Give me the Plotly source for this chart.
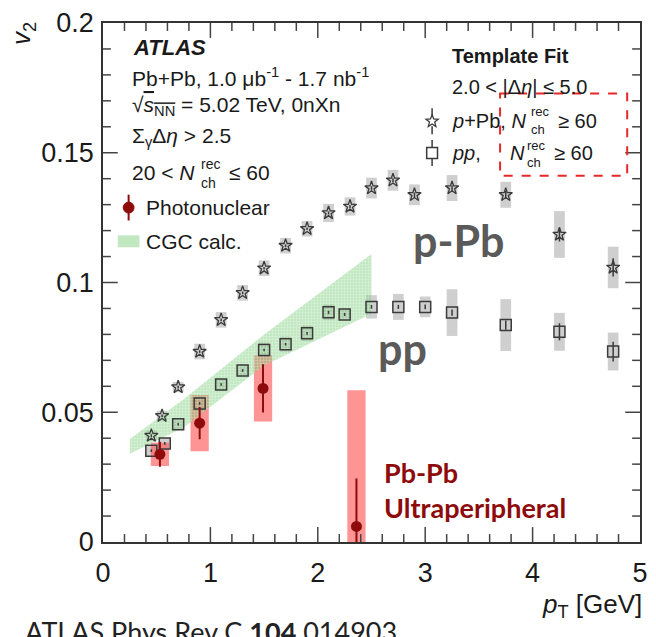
import plotly.graph_objects as go
import numpy as np

# ---------------- data ----------------
ppb_pt   = [0.45, 0.55, 0.7, 0.9, 1.1, 1.3, 1.5, 1.7, 1.9, 2.1, 2.3, 2.5, 2.7, 2.9, 3.25, 3.75, 4.25, 4.75]
ppb_v2   = [0.0410, 0.0486, 0.0597, 0.0734, 0.0856, 0.0960, 0.1055, 0.1142, 0.1207, 0.1268, 0.1293, 0.1364, 0.1394, 0.1338, 0.1364, 0.1338, 0.1185, 0.1058]
ppb_stat = [0.0005, 0.0005, 0.0005, 0.0005, 0.0005, 0.0005, 0.0005, 0.0005, 0.0005, 0.0006, 0.0006, 0.0007, 0.0008, 0.0009, 0.0010, 0.0015, 0.0027, 0.0035]
ppb_sys  = [0.002, 0.002, 0.002, 0.003, 0.003, 0.003, 0.003, 0.003, 0.003, 0.0035, 0.0035, 0.004, 0.004, 0.004, 0.005, 0.005, 0.009, 0.008]

pp_pt   = [0.45, 0.575, 0.7, 0.9, 1.1, 1.3, 1.5, 1.7, 1.9, 2.1, 2.25, 2.5, 2.75, 3.0, 3.25, 3.75, 4.25, 4.75]
pp_v2   = [0.0352, 0.0380, 0.0454, 0.0534, 0.0607, 0.0661, 0.0740, 0.0762, 0.0804, 0.0885, 0.0877, 0.0906, 0.0906, 0.0906, 0.0884, 0.0836, 0.0810, 0.0734]
pp_stat = [0.0005, 0.0005, 0.0005, 0.0005, 0.0005, 0.0005, 0.0005, 0.0005, 0.0005, 0.0006, 0.0006, 0.0007, 0.0008, 0.0009, 0.0012, 0.0018, 0.0033, 0.0038]
pp_sys  = [0.002, 0.002, 0.002, 0.003, 0.002, 0.002, 0.003, 0.003, 0.003, 0.003, 0.002, 0.0045, 0.005, 0.004, 0.009, 0.010, 0.0073, 0.0073]

pn_pt   = [0.53, 0.90, 1.49, 2.36]
pn_v2   = [0.0338, 0.0458, 0.0592, 0.0060]
pn_stat = [0.0048, 0.0062, 0.0093, 0.0185]
pn_sys  = [0.0045, 0.0108, 0.0128, 0.0525]

cgc_pt    = [0.25, 0.75, 1.5, 2.5]
cgc_upper = [0.0397, 0.0550, 0.0800, 0.1110]
cgc_lower = [0.0340, 0.0441, 0.0680, 0.0880]

x_ticks = [0, 1, 2, 3, 4, 5]
x_minor_step = 0.2
y_ticks = [0, 0.05, 0.1, 0.15, 0.2]
y_tick_text = ["0", "0.05", "0.1", "0.15", "0.2"]
y_minor_step = 0.01

# ---------------- layout geometry ----------------
W, H = 656, 637
ML, MR, MT, MB = 103, 8, 19, 95
PW, PH = W - ML - MR, H - MT - MB

def P(px, py):
    return (px - ML) / PW, (H - MB - py) / PH

GRAY_BOX = "#cfcfcf"
MARK = "#3a3a3a"
RED_BOX = "rgba(255,90,90,0.65)"
RED = "#8e0b0b"
GREEN = "rgba(120,205,120,0.45)"
AX = "#333333"
TK = "#444444"

XR = (x_ticks[0], x_ticks[-1])
YR = (y_ticks[0], y_ticks[-1])

fig = go.Figure()

def sysbars(x, y, s, width, color):
    fig.add_trace(go.Bar(x=x, y=[2 * v for v in s], base=[a - b for a, b in zip(y, s)],
                         width=width, marker=dict(color=color, line=dict(width=0)),
                         showlegend=False, hoverinfo="skip"))

sysbars(ppb_pt, ppb_v2, ppb_sys, 0.1, GRAY_BOX)
sysbars(pp_pt, pp_v2, pp_sys, 0.1, GRAY_BOX)
sysbars(pn_pt, pn_v2, pn_sys, 0.17, RED_BOX)

# CGC band
fig.add_trace(go.Scatter(x=cgc_pt + cgc_pt[::-1], y=cgc_upper + cgc_lower[::-1],
                         fill="toself", mode="lines", line=dict(width=0),
                         fillcolor=GREEN,
                         fillpattern=dict(shape="+", size=3, solidity=0.35,
                                          fgcolor="rgba(255,255,255,0.6)", fgopacity=0.6),
                         showlegend=False, hoverinfo="skip"))

fig.add_trace(go.Scatter(x=ppb_pt, y=ppb_v2, mode="markers",
                         error_y=dict(type="data", array=ppb_stat, color=MARK, thickness=1.5, width=0),
                         marker=dict(symbol="star-open", size=10, color=MARK, line=dict(width=1.3, color=MARK)),
                         showlegend=False))
fig.add_trace(go.Scatter(x=pp_pt, y=pp_v2, mode="markers",
                         error_y=dict(type="data", array=pp_stat, color=MARK, thickness=1.5, width=0),
                         marker=dict(symbol="square-open", size=11, color=MARK, line=dict(width=1.5, color=MARK)),
                         showlegend=False))
fig.add_trace(go.Scatter(x=pn_pt, y=pn_v2, mode="markers",
                         error_y=dict(type="data", array=pn_stat, color=RED, thickness=2, width=0),
                         marker=dict(symbol="circle", size=11, color=RED),
                         showlegend=False))

# ---- axis tick marks (inside, all four sides) drawn as a line trace in axis units ----
tx, ty = [], []
dy_major = 15 / PH * (YR[1] - YR[0])
dy_minor = 8 / PH * (YR[1] - YR[0])
dx_major = 15 / PW * (XR[1] - XR[0])
dx_minor = 8 / PW * (XR[1] - XR[0])

for v in np.arange(XR[0], XR[1] + 1e-9, x_minor_step):
    v = float(v)
    if v <= XR[0] + 1e-9 or v >= XR[1] - 1e-9:
        continue
    major = min(abs(v - t) for t in x_ticks) < 1e-6
    d = dy_major if major else dy_minor
    tx += [v, v, None, v, v, None]
    ty += [YR[0], YR[0] + d, None, YR[1], YR[1] - d, None]

for v in np.arange(YR[0], YR[1] + 1e-9, y_minor_step):
    v = float(v)
    if v <= YR[0] + 1e-9 or v >= YR[1] - 1e-9:
        continue
    major = min(abs(v - t) for t in y_ticks) < 1e-6
    d = dx_major if major else dx_minor
    tx += [XR[0], XR[0] + d, None, XR[1], XR[1] - d, None]
    ty += [v, v, None, v, v, None]

fig.add_trace(go.Scatter(x=tx, y=ty, mode="lines", line=dict(color=TK, width=1.5),
                         connectgaps=False, showlegend=False, hoverinfo="skip", cliponaxis=False))

shapes = []

def pline(x0p, y0p, x1p, y1p, color, width):
    a, b = P(x0p, y0p); c, d = P(x1p, y1p)
    shapes.append(dict(type="line", xref="paper", yref="paper", x0=a, y0=b, x1=c, y1=d,
                       line=dict(color=color, width=width)))

def prect(x0p, y0p, x1p, y1p, fill, line=None):
    a, b = P(x0p, y0p); c, d = P(x1p, y1p)
    shapes.append(dict(type="rect", xref="paper", yref="paper", x0=a, y0=b, x1=c, y1=d,
                       fillcolor=fill, line=line or dict(width=0)))

# legend key: photonuclear
pline(129, 192, 129, 218, RED, 2)
a, b = P(123.5, 199.5); c, d = P(134.5, 210.5)
shapes.append(dict(type="circle", xref="paper", yref="paper", x0=a, y0=b, x1=c, y1=d,
                   fillcolor=RED, line=dict(color=RED, width=1)))
# legend key: CGC
prect(118, 233, 140, 245, GREEN)
# legend key: p+Pb star
cx, cy = 437, 118
pline(cx, cy - 13, cx, cy - 6, MARK, 1.5)
pline(cx, cy + 5, cx, cy + 13, MARK, 1.5)
pts = []
for k in range(10):
    r = 6.5 if k % 2 == 0 else 2.8
    ang = -np.pi / 2 + k * np.pi / 5
    pts.append(P(cx + r * np.cos(ang), cy + r * np.sin(ang)))
path = "M " + " L ".join(f"{x:.5f},{y:.5f}" for x, y in pts) + " Z"
shapes.append(dict(type="path", xref="paper", yref="paper", path=path,
                   line=dict(color=MARK, width=1.3), fillcolor="rgba(0,0,0,0)"))
# legend key: pp square
cx, cy = 437, 150
pline(cx, cy - 13, cx, cy - 5.5, MARK, 1.5)
pline(cx, cy + 5.5, cx, cy + 13, MARK, 1.5)
prect(cx - 5.5, cy - 5.5, cx + 5.5, cy + 5.5, "rgba(0,0,0,0)", dict(color=MARK, width=1.5))
# red dashed frame
prect(506, 90, 635, 173, "rgba(0,0,0,0)", dict(color="#e62828", width=2, dash="dash"))

ann = []
def T(px, py, text, size=21, color="#1a1a1a", family="Liberation Sans, Arial", xa="left", ya="middle", angle=0):
    x, y = P(px, py)
    ann.append(dict(x=x, y=y, xref="paper", yref="paper", text=text, showarrow=False,
                    xanchor=xa, yanchor=ya, textangle=angle,
                    font=dict(size=size, color=color, family=family)))

T(131, 44, "<b><i>ATLAS</i></b>", size=22)
T(130, 73, "Pb+Pb, 1.0 μb<sup>-1</sup> - 1.7 nb<sup>-1</sup>")
T(130, 103, "√<span style='text-decoration:overline'><i>s</i><sub>NN</sub></span> = 5.02 TeV, 0nXn")
T(130, 134, "Σ<sub>γ</sub>Δ<i>η</i> > 2.5")
T(130, 170, "20 < <i>N</i>")
T(200, 161, "rec", size=14)
T(200, 180, "ch", size=14)
T(229, 170, "≤ 60")
T(145, 205, "Photonuclear")
T(145, 239, "CGC calc.")

T(455, 52, "<b>Template Fit</b>", size=20)
T(455, 83, "2.0 < |Δ<i>η</i>| ≤ 5.0", size=20)
T(455, 118, "<i>p</i>+Pb, <i>N</i>", size=20)
T(535, 108, "rec", size=13)
T(535, 126, "ch", size=13)
T(563, 118, "≥ 60", size=20)
T(455, 150, "<i>pp</i>,", size=20)
T(514, 150, "<i>N</i>", size=20)
T(531, 142, "rec", size=13)
T(531, 160, "ch", size=13)
T(559, 150, "≥ 60", size=20)

T(416, 238, "<b>p-Pb</b>", size=43, color="#5a5a5a", family="Lato")
T(380, 347, "<b>pp</b>", size=43, color="#5a5a5a", family="Lato")
T(386, 472, "<b>Pb-Pb</b>", size=27, color=RED, family="Lato")
T(386, 507, "<b>Ultraperipheral</b>", size=27, color=RED, family="Lato")

T(652, 606, "<i>p</i><sub>T</sub> [GeV]", size=26, xa="right")
T(22, 30, "<i>v</i><sub>2</sub>", size=26, xa="center", angle=-90)
T(22, 632, "ATLAS Phys Rev C <b>104</b> 014903", size=27, color="#222222", family="Lato")

tickfont = dict(size=27, color="#1a1a1a", family="Liberation Sans, Arial")

fig.update_layout(
    width=W, height=H, margin=dict(l=ML, r=MR, t=MT, b=MB),
    paper_bgcolor="white", plot_bgcolor="white", barmode="overlay",
    showlegend=False,
    xaxis=dict(range=list(XR), tickmode="array", tickvals=x_ticks,
               ticktext=[str(v) for v in x_ticks],
               showline=True, linecolor=AX, linewidth=1.5, mirror=True,
               ticks="", ticklabelstandoff=6,
               showgrid=False, zeroline=False, tickfont=tickfont),
    yaxis=dict(range=list(YR), tickmode="array", tickvals=y_ticks, ticktext=y_tick_text,
               showline=True, linecolor=AX, linewidth=1.5, mirror=True,
               ticks="", ticklabelstandoff=2,
               showgrid=False, zeroline=False, tickfont=tickfont),
    shapes=shapes, annotations=ann,
)

fig.write_html("out.html")
